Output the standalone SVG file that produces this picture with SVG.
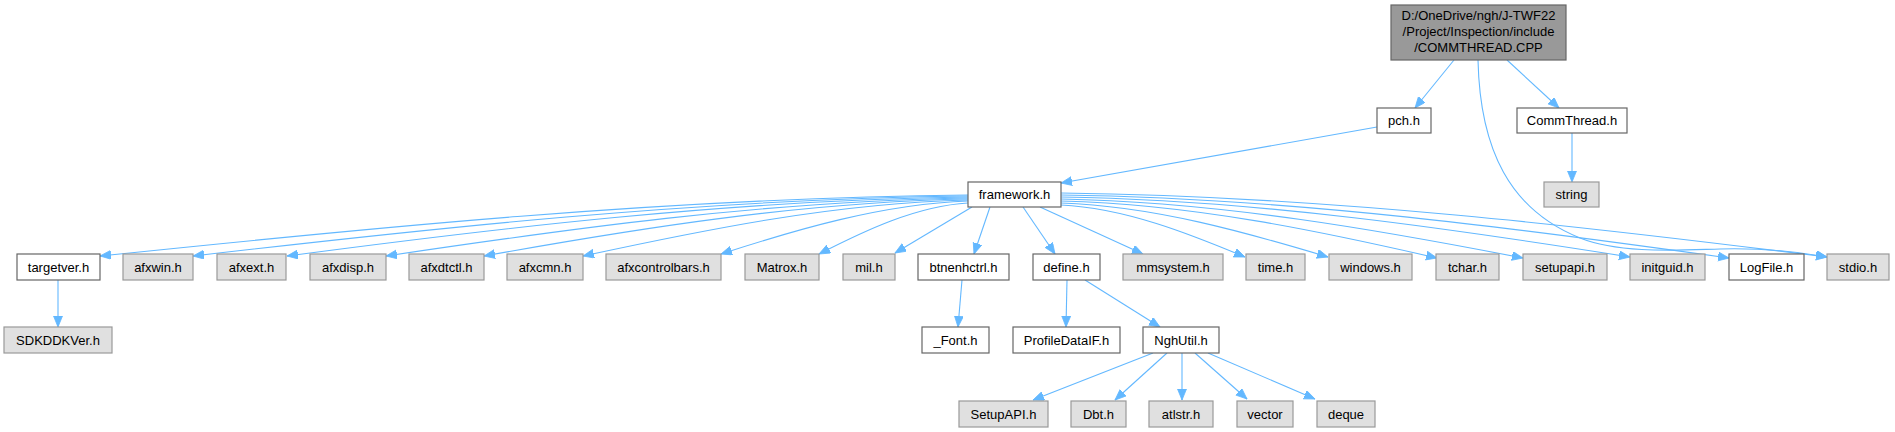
<svg xmlns="http://www.w3.org/2000/svg" width="1895" height="432" viewBox="0 0 1895 432">
<style>
text{font-family:"Liberation Sans",Arial,sans-serif;font-size:13px;fill:#000;text-anchor:middle}
.w{fill:#ffffff;stroke:#666666;stroke-width:1.2}
.g{fill:#e0e0e0;stroke:#999999;stroke-width:1.2}
.r{fill:#999999;stroke:#666666;stroke-width:1.2}
#edges path{fill:none;stroke:#63b8ff;stroke-width:1.1;marker-end:url(#arr)}
</style>
<defs>
<marker id="arr" markerUnits="userSpaceOnUse" markerWidth="13" markerHeight="11" refX="11" refY="4.5" orient="auto">
<path d="M0,0 L11,4.5 L0,9 z" fill="#63b8ff" stroke="#63b8ff" stroke-width="0.8"/>
</marker>
</defs>
<g id="edges">
<path d="M1454,60 L1415,108"/>
<path d="M1507,60 L1559,108"/>
<path d="M1572,133 L1572,182"/>
<path d="M1377,127 L1061,183"/>
<path d="M1478,60 C1480,150 1510,210 1580,238 C1620,254 1680,250 1720,249 C1760,248 1800,252 1827,257"/>
<path d="M968,195 C664,198 360,229 100,256"/>
<path d="M968,196 C697,199 426,229 193,256"/>
<path d="M968,197 C730,200 491,229 287,256"/>
<path d="M968,198 C764,201 561,230 386,256"/>
<path d="M968,199 C799,202 629,230 484,256"/>
<path d="M968,200 C833,203 699,231 583,256"/>
<path d="M968,201 C882,204 795,230 721,254"/>
<path d="M968,203 C916,206 864,231 819,254"/>
<path d="M972,207 L895,253"/>
<path d="M990,207 L974,254"/>
<path d="M1023,207 L1055,254"/>
<path d="M1040,207 L1143,254"/>
<path d="M1061,205 C1125,208 1190,234 1245,257"/>
<path d="M1061,203 C1154,206 1248,233 1328,257"/>
<path d="M1061,201 C1193,204 1324,232 1437,258"/>
<path d="M1061,199 C1223,202 1384,231 1523,258"/>
<path d="M1061,197 C1260,200 1459,230 1630,257"/>
<path d="M1061,195 C1295,198 1529,230 1729,258"/>
<path d="M1061,193 C1329,196 1597,228 1827,257"/>
<path d="M58,280 L58,327"/>
<path d="M962,280 L958,327"/>
<path d="M1067,280 L1066,327"/>
<path d="M1085,280 L1160,327"/>
<path d="M1153,353 L1033,400"/>
<path d="M1167,353 L1115,400"/>
<path d="M1182,353 L1182,400"/>
<path d="M1195,353 L1247,399"/>
<path d="M1208,353 L1315,399"/>
</g>
<g id="n_root"><rect class="r" x="1391" y="5" width="175" height="55"/><text x="1478.5" y="20">D:/OneDrive/ngh/J-TWF22</text><text x="1478.5" y="36">/Project/Inspection/include</text><text x="1478.5" y="52">/COMMTHREAD.CPP</text></g>
<g id="n_pch"><rect class="w" x="1377" y="108" width="54" height="25"/><text x="1404" y="125">pch.h</text></g>
<g id="n_commthread"><rect class="w" x="1517" y="108" width="110" height="25"/><text x="1572" y="125">CommThread.h</text></g>
<g id="n_string"><rect class="g" x="1544" y="182" width="55" height="25"/><text x="1571.5" y="199">string</text></g>
<g id="n_framework"><rect class="w" x="968" y="182" width="93" height="25"/><text x="1014.5" y="199">framework.h</text></g>
<g id="n_targetver"><rect class="w" x="17" y="254" width="83" height="26"/><text x="58.5" y="271.5">targetver.h</text></g>
<g id="n_afxwin"><rect class="g" x="123" y="254" width="70" height="26"/><text x="158" y="271.5">afxwin.h</text></g>
<g id="n_afxext"><rect class="g" x="217" y="254" width="69" height="26"/><text x="251.5" y="271.5">afxext.h</text></g>
<g id="n_afxdisp"><rect class="g" x="310" y="254" width="76" height="26"/><text x="348" y="271.5">afxdisp.h</text></g>
<g id="n_afxdtctl"><rect class="g" x="409" y="254" width="75" height="26"/><text x="446.5" y="271.5">afxdtctl.h</text></g>
<g id="n_afxcmn"><rect class="g" x="507" y="254" width="76" height="26"/><text x="545" y="271.5">afxcmn.h</text></g>
<g id="n_afxcontrolbars"><rect class="g" x="606" y="254" width="115" height="26"/><text x="663.5" y="271.5">afxcontrolbars.h</text></g>
<g id="n_matrox"><rect class="g" x="745" y="254" width="74" height="26"/><text x="782" y="271.5">Matrox.h</text></g>
<g id="n_mil"><rect class="g" x="843" y="254" width="52" height="26"/><text x="869" y="271.5">mil.h</text></g>
<g id="n_btnenhctrl"><rect class="w" x="918" y="254" width="91" height="26"/><text x="963.5" y="271.5">btnenhctrl.h</text></g>
<g id="n_define"><rect class="w" x="1033" y="254" width="67" height="26"/><text x="1066.5" y="271.5">define.h</text></g>
<g id="n_mmsystem"><rect class="g" x="1123" y="254" width="100" height="26"/><text x="1173" y="271.5">mmsystem.h</text></g>
<g id="n_time"><rect class="g" x="1246" y="254" width="59" height="26"/><text x="1275.5" y="271.5">time.h</text></g>
<g id="n_windows"><rect class="g" x="1329" y="254" width="83" height="26"/><text x="1370.5" y="271.5">windows.h</text></g>
<g id="n_tchar"><rect class="g" x="1436" y="254" width="63" height="26"/><text x="1467.5" y="271.5">tchar.h</text></g>
<g id="n_setupapi"><rect class="g" x="1523" y="254" width="84" height="26"/><text x="1565" y="271.5">setupapi.h</text></g>
<g id="n_initguid"><rect class="g" x="1630" y="254" width="75" height="26"/><text x="1667.5" y="271.5">initguid.h</text></g>
<g id="n_logfile"><rect class="w" x="1729" y="254" width="75" height="26"/><text x="1766.5" y="271.5">LogFile.h</text></g>
<g id="n_stdio"><rect class="g" x="1827" y="254" width="62" height="26"/><text x="1858" y="271.5">stdio.h</text></g>
<g id="n_sdkddkver"><rect class="g" x="4" y="327" width="108" height="26"/><text x="58" y="344.5">SDKDDKVer.h</text></g>
<g id="n_font"><rect class="w" x="922" y="327" width="67" height="26"/><text x="955.5" y="344.5">_Font.h</text></g>
<g id="n_profiledataif"><rect class="w" x="1013" y="327" width="107" height="26"/><text x="1066.5" y="344.5">ProfileDataIF.h</text></g>
<g id="n_nghutil"><rect class="w" x="1143" y="327" width="76" height="26"/><text x="1181" y="344.5">NghUtil.h</text></g>
<g id="n_setupapi2"><rect class="g" x="959" y="401" width="89" height="26"/><text x="1003.5" y="418.5">SetupAPI.h</text></g>
<g id="n_dbt"><rect class="g" x="1071" y="401" width="55" height="26"/><text x="1098.5" y="418.5">Dbt.h</text></g>
<g id="n_atlstr"><rect class="g" x="1149" y="401" width="64" height="26"/><text x="1181" y="418.5">atlstr.h</text></g>
<g id="n_vector"><rect class="g" x="1237" y="401" width="56" height="26"/><text x="1265" y="418.5">vector</text></g>
<g id="n_deque"><rect class="g" x="1317" y="401" width="58" height="26"/><text x="1346" y="418.5">deque</text></g>
</svg>
